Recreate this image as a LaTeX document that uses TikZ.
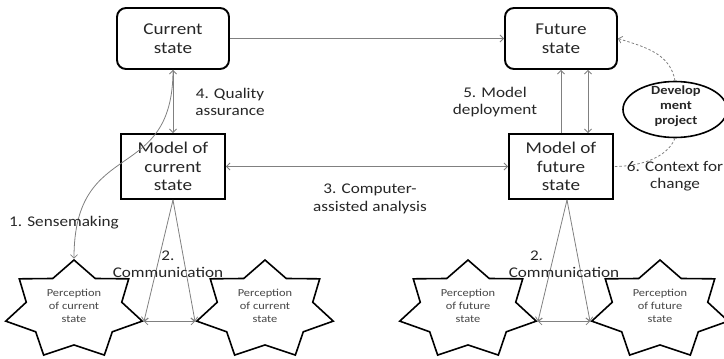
\documentclass[tikz,border=0pt]{standalone}
\usepackage{fontspec}
\setmainfont{Carlito}[FakeStretch=1.16]
\usetikzlibrary{shapes.geometric,arrows.meta}

\definecolor{linegray}{RGB}{128,128,128}
\definecolor{textgray}{RGB}{70,70,70}

\begin{document}
\begin{tikzpicture}[x=1pt,y=-1pt,
  >={Straight Barb[length=3.5pt,width=7pt]},
  statebox/.style={draw=black,line width=1.9pt,rounded corners=9pt,
    minimum width=112pt,minimum height=61pt,inner sep=0pt,align=center,
    text=black!85,font=\fontsize{16.5}{19}\selectfont},
  modelbox/.style={draw=black,line width=1.9pt,
    minimum width=104pt,minimum height=65pt,inner sep=0pt,align=center,
    text=black!85,font=\fontsize{16.5}{18.5}\selectfont},
  perception/.style={star,star points=7,star point ratio=1.43,
    minimum size=100pt,inner sep=0pt,draw=black,line width=1.6pt,xscale=1.4},
  startext/.style={align=center,text=textgray,
    font=\fontsize{10.7}{13}\selectfont},
  projectnode/.style={draw=black,line width=1.6pt,ellipse,
    minimum width=104pt,minimum height=56pt,inner sep=0pt},
  projecttext/.style={align=center,text=black!85,inner sep=0pt,
    font=\bfseries\fontsize{12.5}{15}\selectfont},
  note/.style={align=center,text=black!85,
    font=\fontsize{14.8}{17.5}\selectfont},
  connector/.style={draw=linegray,line width=0.8pt},
  hint/.style={connector,dash pattern=on 2.5pt off 2pt}
]
\useasboundingbox (0,0) rectangle (724,359);

% states and their models
\node[statebox] (cs) at (173,38.5) {Current\\state};
\node[statebox] (fs) at (561,38.5) {Future\\state};
\node[modelbox] (mc) at (173,166.5) {Model of\\current\\state};
\node[modelbox] (mf) at (561,166.5) {Model of\\future\\state};

% development project
\node[projectnode] (dp) at (675,109.5) {};
\node[projecttext] (dpt) at (676,106) {Develop\\ment\\project};

% perceptions
\node[perception] (pc1) at (74,310) {};
\node[perception] (pc2) at (265,310) {};
\node[perception] (pf1) at (468,310) {};
\node[perception] (pf2) at (660,310) {};
\node[startext] (pc1t) at (74,306) {Perception\\of current\\state};
\node[startext] (pc2t) at (265,306) {Perception\\of current\\state};
\node[startext] (pf1t) at (468,306) {Perception\\of future\\state};
\node[startext] (pf2t) at (660,306) {Perception\\of future\\state};

% connectors between states and models
\draw[connector,->] (cs) -- (fs);
\draw[connector,<->] (cs.south) -- (mc.north);
\draw[connector,<->] (mc) -- (mf);
\draw[connector,->] (mf.north) -- (fs.south);
\draw[connector,<->] ([xshift=27pt]mf.north) -- ([xshift=27pt]fs.south);

% sensemaking
\draw[connector,->] (cs.south) .. controls +(0,116) and +(0,-123) .. (pc1.outer point 1);

% communication
\draw[connector,->] (mc.south) -- (pc1.outer point 6);
\draw[connector,->] (mc.south) -- (pc2.outer point 3);
\draw[connector,<->] (pc1.outer point 6) -- (pc2.outer point 3);
\coordinate (mfapex) at ([xshift=6pt]mf.south);
\draw[connector,->] (mfapex) -- (pf1.outer point 6);
\draw[connector,->] (mfapex) -- (pf2.outer point 3);
\draw[connector,<->] (pf1.outer point 6) -- (pf2.outer point 3);

% influence of the development project
\draw[hint,->] (dp.north) .. controls +(-5,-28) and +(25,8) .. (fs.east);
\draw[hint] (dp.south) .. controls +(-8,20) and +(25,0) .. (mf.east);

% labels
\node[note] (qa) at (230,102) {4. Quality\\assurance};
\node[note] (md) at (495,102) {5. Model\\deployment};
\node[note] (ca) at (370,199) {3. Computer-\\assisted analysis};
\node[note] (cc) at (675,176) {6. Context for\\change};
\node[note] (sm) at (64,223) {1. Sensemaking};
\node[note] (cm1) at (168,264) {2.\\Communication};
\node[note] (cm2) at (564,264) {\makebox[110pt][l]{\hspace{21pt}2.}\\Communication};
\end{tikzpicture}
\end{document}
